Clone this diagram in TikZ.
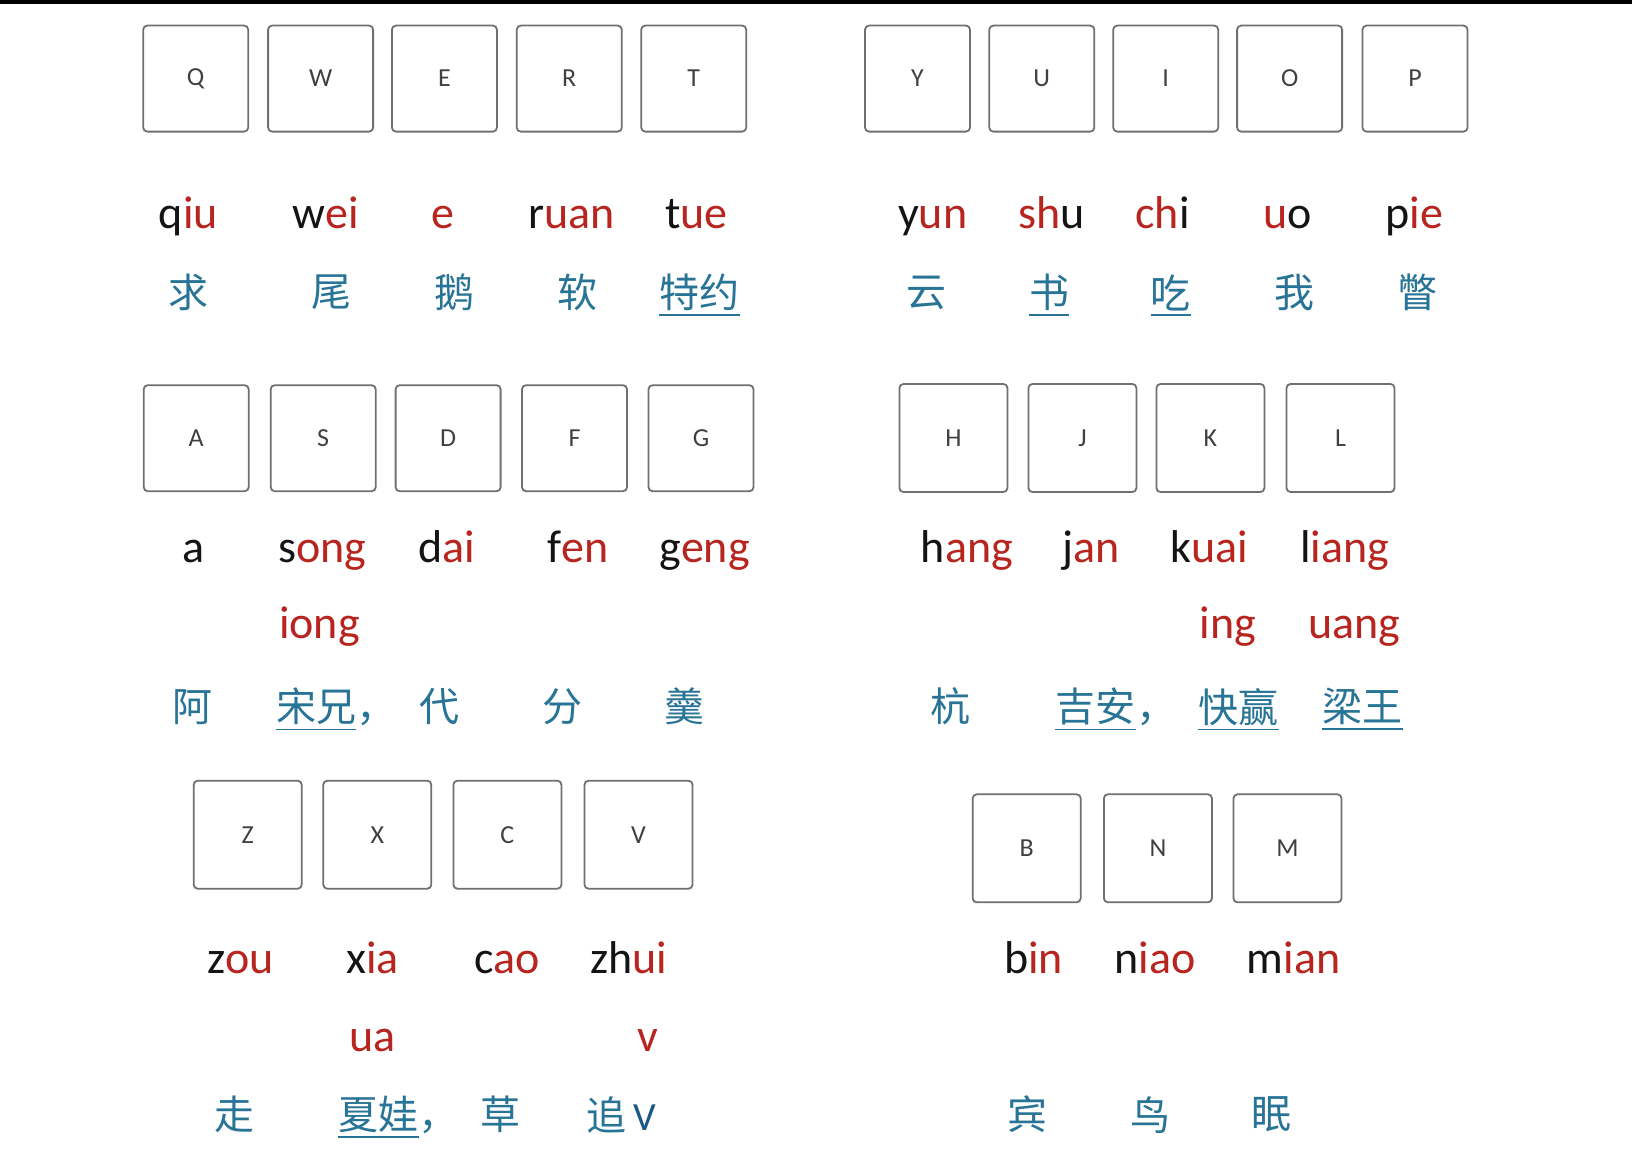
\documentclass[tikz,border=0pt]{standalone}
\usepackage{fontspec}
\setmainfont{Carlito}
\newfontfamily\cjk{Noto Sans CJK SC}
\usetikzlibrary{positioning}
\definecolor{pyred}{RGB}{184,36,30}
\definecolor{hzblue}{RGB}{40,116,150}
\definecolor{vblue}{RGB}{28,88,132}
\definecolor{keyline}{RGB}{112,112,112}
\newcommand\rd[1]{\textcolor{pyred}{#1}}
\tikzset{
  keycap/.style={draw=keyline, line width=1.8pt, rounded corners=4pt,
    minimum width=105pt, minimum height=106pt, inner sep=0pt,
    font=\fontsize{26}{26}\selectfont, text=black!75},
  bigcap/.style={keycap, minimum width=108pt, minimum height=108pt},
  pinyin/.style={anchor=base, inner sep=0pt, font=\fontsize{46}{50}\selectfont, text=black!92},
  hanzi/.style={inner sep=0pt, font=\fontsize{40}{44}\selectfont\cjk, text=hzblue},
  ulline/.style={draw=hzblue, line width=1.6pt},
}
\begin{document}
\begin{tikzpicture}[x=1pt,y=-1pt]
\useasboundingbox[fill=white] (0,0) rectangle (1632,1164);
\fill[black] (0,0) rectangle (1632,4);

% top row
\foreach \k/\x in {Q/195.7,W/320.6,E/444.4,R/569.3,T/693.7,Y/917.5,U/1041.8,I/1165.7,O/1289.6,P/1415}
  \node[keycap] (k\k) at (\x,78.6) {\k};

\node[pinyin] (pQ) at (188.4,228) {q\rd{iu}};
\node[pinyin] (pW) at (325.8,228) {w\rd{ei}};
\node[pinyin] (pE) at (443.4,228) {\rd{e}};
\node[pinyin] (pR) at (571.4,228) {r\rd{uan}};
\node[pinyin] (pT) at (696.3,228) {t\rd{ue}};
\node[pinyin] (pY) at (932.6,228) {y\rd{un}};
\node[pinyin] (pU) at (1051.2,228) {\rd{sh}u};
\node[pinyin] (pI) at (1162.6,228) {\rd{ch}i};
\node[pinyin] (pO) at (1287.5,228) {\rd{u}o};
\node[pinyin] (pP) at (1414.4,228) {p\rd{ie}};

\node[hanzi] (hQ) at (188.4,292.5) {求};
\node[hanzi] (hW) at (331,292.5) {尾};
\node[hanzi] (hE) at (454.8,292.5) {鹅};
\node[hanzi] (hR) at (577.6,292.5) {软};
\node[hanzi] (hT) at (699.4,292.5) {特约};
\node[hanzi] (hY) at (926.3,292.5) {云};
\node[hanzi] (hU) at (1049.1,292.5) {书};
\node[hanzi] (hI) at (1170.9,292.5) {吃};
\node[hanzi] (hO) at (1294.8,292.5) {我};
\node[hanzi] (hP) at (1417.6,292.5) {瞥};
\foreach \n in {hT,hU,hI}
  \draw[ulline] ([yshift=-4pt]\n.south west) -- ([yshift=-4pt]\n.south east);

% middle row
\foreach \k/\x in {A/196.2,S/323.2,D/448.1,F/574.5,G/701}
  \node[keycap] (k\k) at (\x,438.2) {\k};
\foreach \k/\x in {H/953.4,J/1082.4,K/1210.4,L/1340.5}
  \node[bigcap] (k\k) at (\x,438) {\k};

\node[pinyin] (pA) at (193.6,562) {a};
\node[pinyin] (pS) at (322.6,562) {s\rd{ong}};
\node[pinyin] (pD) at (446.5,562) {d\rd{ai}};
\node[pinyin] (pF) at (577.6,562) {f\rd{en}};
\node[pinyin] (pG) at (704.6,562) {g\rd{eng}};
\node[pinyin] (pH) at (966.9,562) {h\rd{ang}};
\node[pinyin] (pJ) at (1090.8,562) {j\rd{an}};
\node[pinyin] (pK) at (1209.4,562) {k\rd{uai}};
\node[pinyin] (pL) at (1344.7,562) {l\rd{iang}};
\node[pinyin] (qS) at (319.5,638) {\rd{iong}};
\node[pinyin] (qK) at (1228.1,638) {\rd{ing}};
\node[pinyin] (qL) at (1354.1,638) {\rd{uang}};

\node[hanzi] (hA) at (192.5,706.7) {阿};
\node[hanzi, anchor=west] (hS) at (275.8,706.7) {宋兄};
\node[hanzi, anchor=base west] (cS) at (hS.base east) {，};
\node[hanzi] (hD) at (439.2,706.7) {代};
\node[hanzi] (hF) at (562,706.7) {分};
\node[hanzi] (hG) at (684.8,706.7) {羹};
\node[hanzi] (hH) at (950.3,706.7) {杭};
\node[hanzi, anchor=west] (hJ) at (1055.4,706.7) {吉安};
\node[hanzi, anchor=base west] (cJ) at (hJ.base east) {，};
\node[hanzi] (hK) at (1238.6,706.7) {快赢};
\node[hanzi] (hL) at (1362.4,706.7) {梁王};
\foreach \n in {hS,hJ,hK,hL}
  \draw[ulline] ([yshift=-4pt]\n.south west) -- ([yshift=-4pt]\n.south east);

% bottom row
\foreach \k/\x in {Z/247.7,X/377.3,C/507.4,V/638.5}
  \node[bigcap] (k\k) at (\x,834.7) {\k};
\foreach \k/\x in {B/1026.7,N/1157.9,M/1287.5}
  \node[bigcap] (k\k) at (\x,848.3) {\k};

\node[pinyin] (pZ) at (240.4,973) {z\rd{ou}};
\node[pinyin] (pX) at (372.6,973) {x\rd{ia}};
\node[pinyin] (pC) at (506.9,973) {c\rd{ao}};
\node[pinyin] (pV) at (628.6,973) {zh\rd{ui}};
\node[pinyin] (pB) at (1033.5,973) {b\rd{in}};
\node[pinyin] (pN) at (1155.3,973) {n\rd{iao}};
\node[pinyin] (pM) at (1293.7,973) {m\rd{ian}};
\node[pinyin] (qX) at (372.6,1051) {\rd{ua}};
\node[pinyin] (qV) at (647.4,1051) {\rd{v}};

\node[hanzi] (hZ) at (234.2,1114.7) {走};
\node[hanzi, anchor=west] (hX) at (338.3,1114.7) {夏娃};
\node[hanzi, anchor=base west] (cX) at (hX.base east) {，};
\node[hanzi] (hC) at (500.6,1114.7) {草};
\node[hanzi] (hV) at (621.4,1114.7) {追\,{\fontspec{Carlito}\textcolor{vblue}{V}}};
\node[hanzi] (hB) at (1027.3,1114.7) {宾};
\node[hanzi] (hN) at (1150.1,1114.7) {鸟};
\node[hanzi] (hM) at (1271.9,1114.7) {眠};
\draw[ulline] ([yshift=-4pt]hX.south west) -- ([yshift=-4pt]hX.south east);
\end{tikzpicture}
\end{document}
